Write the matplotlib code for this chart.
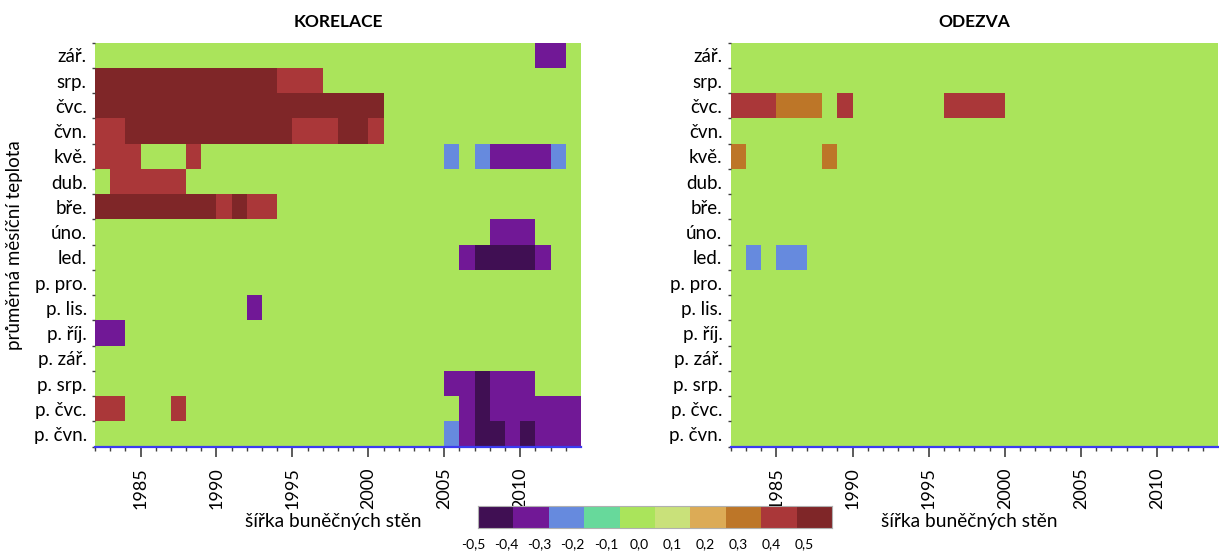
import numpy as np
import matplotlib
matplotlib.use("Agg")
import matplotlib.pyplot as plt
from matplotlib.colors import ListedColormap, BoundaryNorm
from matplotlib.ticker import MultipleLocator

plt.rcParams['font.family'] = ['Lato', 'DejaVu Sans']

years = np.arange(1982, 2014)
months = ['zář.', 'srp.', 'čvc.', 'čvn.', 'kvě.', 'dub.', 'bře.', 'úno.', 'led.',
          'p. pro.', 'p. lis.', 'p. říj.', 'p. zář.', 'p. srp.', 'p. čvc.', 'p. čvn.']

# one character per year, value taken as the middle of its colour class
codes = {'P': -0.45, 'p': -0.35, 'b': -0.25, '.': -0.05,
         'o': 0.25, 'r': 0.35, 'R': 0.45}

korelace_rows = [
    '.' * 29 + 'pp' + '.',
    'R' * 12 + 'rrr' + '.' * 17,
    'R' * 19 + '.' * 13,
    'rr' + 'R' * 11 + 'rrr' + 'RR' + 'r' + '.' * 13,
    'rrr...r' + '.' * 16 + 'b.bppppb.',
    '.' + 'r' * 5 + '.' * 26,
    'R' * 8 + 'rRrr' + '.' * 20,
    '.' * 26 + 'ppp...',
    '.' * 24 + 'pPPPPp..',
    '.' * 32,
    '.' * 10 + 'p' + '.' * 21,
    'pp' + '.' * 30,
    '.' * 32,
    '.' * 23 + 'ppPppp...',
    'rr...r' + '.' * 18 + 'pPpppppp',
    '.' * 23 + 'bpPPpPppp',
]

odezva_rows = [
    '.' * 32,
    '.' * 32,
    'rrrooo.r' + '.' * 6 + 'rrrr' + '.' * 14,
    '.' * 32,
    'o.....o' + '.' * 25,
    '.' * 32,
    '.' * 32,
    '.' * 32,
    '.b.bb' + '.' * 27,
] + ['.' * 32] * 7

bounds = np.round(np.arange(-0.5, 0.51, 0.1), 1)
bound_labels = ['-0,5', '-0,4', '-0,3', '-0,2', '-0,1', '0,0',
                '0,1', '0,2', '0,3', '0,4', '0,5']
colors = ['#400f53', '#711896', '#668ade', '#67d99b', '#aae45b',
          '#c9e17a', '#dcab56', '#bd7628', '#aa3739', '#7f2628']
cmap = ListedColormap(colors)
norm = BoundaryNorm(bounds, cmap.N)


def to_grid(rows):
    return np.array([[codes[c] for c in r] for r in rows])


fig = plt.figure(figsize=(12.19, 5.55), dpi=100)
ax1 = fig.add_axes([0.0779, 0.1951, 0.3987, 0.728])
ax2 = fig.add_axes([0.5994, 0.1951, 0.3998, 0.728])

x_edges = np.arange(years[0], years[-1] + 2)
y_edges = np.arange(len(months) + 1)

for ax, rows, title in [(ax1, korelace_rows, 'KORELACE'), (ax2, odezva_rows, 'ODEZVA')]:
    ax.pcolormesh(x_edges, y_edges, to_grid(rows), cmap=cmap, norm=norm)
    ax.set_xlim(x_edges[0], x_edges[-1])
    ax.set_ylim(len(months), 0)

    for s in ['top', 'right', 'left']:
        ax.spines[s].set_visible(False)
    ax.spines['bottom'].set_color('#3b3bf0')
    ax.spines['bottom'].set_linewidth(1.6)

    ax.set_xticks(np.arange(1985, 2011, 5))
    ax.set_xticks(years, minor=True)
    ax.tick_params(axis='x', which='major', length=7, width=1.2, color='#404040',
                   labelrotation=90, labelsize=13, pad=8)
    ax.tick_params(axis='x', which='minor', length=3, width=1, color='#404040')

    ax.set_yticks(np.arange(len(months)) + 0.5)
    ax.set_yticklabels(months)
    ax.yaxis.set_minor_locator(MultipleLocator(1))
    ax.tick_params(axis='y', which='major', length=0, labelsize=13.5, pad=6)
    ax.tick_params(axis='y', which='minor', length=2.5, width=1, color='#404040')

    ax.set_title(title, fontweight='bold', fontsize=12.5, pad=11)
    ax.set_xlabel('šířka buněčných stěn', fontsize=13.8)
    ax.xaxis.set_label_coords(0.49, -0.165)

ax1.set_ylabel('průměrná měsíční teplota', fontsize=13.5)
ax1.yaxis.set_label_coords(-0.148, 0.5)

# colour key
cax = fig.add_axes([0.3921, 0.0486, 0.2904, 0.0396])
centers = (bounds[:-1] + bounds[1:]) / 2
cax.pcolormesh(np.arange(len(colors) + 1), [0, 1], centers.reshape(1, -1), cmap=cmap, norm=norm)
cax.set_xlim(0, len(colors))
cax.set_ylim(0, 1)
cax.set_xticks([])
cax.set_yticks([])
for xpos, lab in zip(np.linspace(-0.13, 9.23, len(bounds)), bound_labels):
    cax.text(xpos, -0.45, lab, ha='center', va='top', fontsize=10, clip_on=False)
for s in cax.spines.values():
    s.set_color('#b0b0b0')
    s.set_linewidth(0.8)

fig.savefig('out.png', dpi=100)
